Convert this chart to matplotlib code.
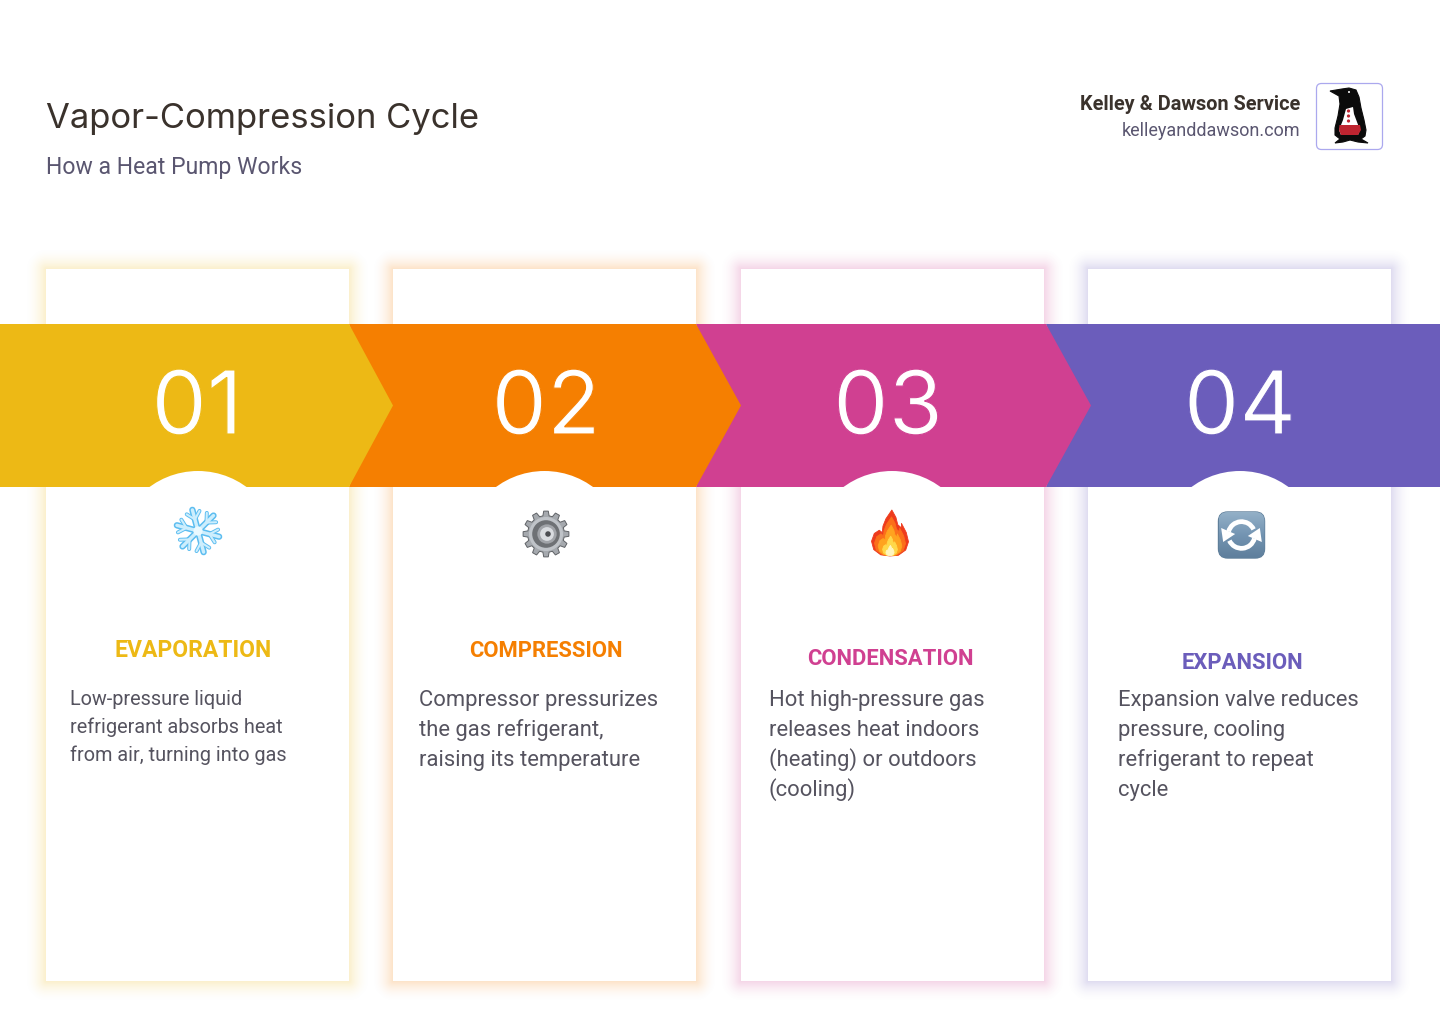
import matplotlib
matplotlib.use("Agg")
import matplotlib.pyplot as plt
import matplotlib.patheffects as pe
import numpy as np
from matplotlib.colors import to_rgb, LinearSegmentedColormap
from matplotlib.patches import Rectangle, Circle, Polygon, FancyBboxPatch, Arc

# ----------------- data -----------------
TITLE = "Vapor-Compression Cycle"
SUBTITLE = "How a Heat Pump Works"
COMPANY = "Kelley & Dawson Service"
SITE = "kelleyanddawson.com"

NUMBERS = ["01", "02", "03", "04"]
HEADINGS = ["EVAPORATION", "COMPRESSION", "CONDENSATION", "EXPANSION"]
BODIES = [
    ["Low-pressure liquid", "refrigerant absorbs heat", "from air, turning into gas"],
    ["Compressor pressurizes", "the gas refrigerant,", "raising its temperature"],
    ["Hot high-pressure gas", "releases heat indoors", "(heating) or outdoors", "(cooling)"],
    ["Expansion valve reduces", "pressure, cooling", "refrigerant to repeat", "cycle"],
]
COLORS = ["#EDB915", "#F57F01", "#D04091", "#6B5DBB"]

CARD_LEFT = [46, 393, 741, 1088]
CARD_WIDTH = 303
CARD_TOP = 269
CARD_BOTTOM = 981
BAND_TOP = 324
BAND_BOTTOM = 487
BAND_MID = 405.5
CHEVRON_START = [-10, 349, 696, 1046]
CHEVRON_END = [349, 696, 1046, 1450]
CHEVRON_TIP = [393, 741, 1091, None]
NUMBER_X = [197, 546, 888, 1240]
ARC_X = [198, 544.5, 892, 1240]
HEADING_X = [193, 546, 890, 1242]
HEADING_Y = [657, 657, 665, 669]
HEADING_SIZE = [22.9, 22, 22, 22]
BODY_X = [70, 419, 769, 1118]
BODY_Y = [705, 706, 706, 706]
BODY_STEP = [28, 30, 30, 30]
BODY_SIZE = [19.85, 22, 22, 22]

plt.rcParams["font.family"] = ["Roboto", "DejaVu Sans"]

fig = plt.figure(figsize=(14.4, 10.24), dpi=100, facecolor="white")
ax = fig.add_axes([0, 0, 1, 1])


def px(size):
    return size * 0.72


def draw_shadow(x, y, w, h, color, spread=22, strength=0.22):
    xs = np.arange(x - spread, x + w + spread) + 0.5
    ys = np.arange(y - spread, y + h + spread) + 0.5
    dx = np.maximum(np.maximum(x - xs, xs - (x + w)), 0)
    dy = np.maximum(np.maximum(y - ys, ys - (y + h)), 0)
    dist = np.hypot(dx[None, :], dy[:, None])
    fall = np.clip(1 - dist / spread, 0, 1) ** 2
    rgba = np.zeros(fall.shape + (4,))
    rgba[..., :3] = to_rgb(color)
    rgba[..., 3] = fall * strength
    ax.imshow(rgba, extent=(x - spread, x + w + spread, y + h + spread, y - spread),
              aspect="auto", interpolation="nearest", zorder=1)


def snowflake(cx, cy, r):
    for color, lw in [("#5CBDF0", 4.6), ("#CDEEFD", 2.4)]:
        for k in range(6):
            a = np.pi / 2 + k * np.pi / 3 + 0.26
            d = np.array([np.cos(a), -np.sin(a)])
            tip = np.array([cx, cy]) + d * r * 0.95
            ax.plot([cx, tip[0]], [cy, tip[1]], color=color, lw=lw, solid_capstyle="round", zorder=6)
            base = np.array([cx, cy]) + d * r * 0.52
            for s in (-0.75, 0.75):
                e = base + np.array([np.cos(a + s), -np.sin(a + s)]) * r * 0.42
                ax.plot([base[0], e[0]], [base[1], e[1]], color=color, lw=lw * 0.62,
                        solid_capstyle="round", zorder=6)
    ax.add_patch(Circle((cx, cy), r * 0.2, fc="#EAF9FF", ec="none", zorder=7))


def gear(cx, cy, r):
    n = 12
    pts = []
    for k in range(n):
        a0 = 2 * np.pi * k / n
        for da, rr in [(-0.17, 0.8), (-0.1, 1.0), (0.1, 1.0), (0.17, 0.8)]:
            pts.append((cx + rr * r * np.cos(a0 + da), cy + rr * r * np.sin(a0 + da)))
    ax.add_patch(Polygon(pts, closed=True, fc="#A5A9AE", ec="#5F6266", lw=0.7, zorder=6))
    ax.add_patch(Circle((cx, cy), r * 0.74, fc="#BFC3C8", ec="none", zorder=7))
    ax.add_patch(Circle((cx, cy), r * 0.6, fc="#6E7175", ec="none", zorder=7))
    ax.add_patch(Circle((cx + 1, cy), r * 0.42, fc="#A1A4A9", ec="none", zorder=7))
    ax.add_patch(Circle((cx + 1, cy), r * 0.3, fc="#D9DCE0", ec="none", zorder=7))
    ax.add_patch(Circle((cx + 2, cy), r * 0.12, fc="#4C4E52", ec="none", zorder=8))


def flame(cx, cy, sx, sy):
    outer = [(0.1, -1.0), (0.32, -0.68), (0.42, -0.36), (0.62, -0.22), (0.62, -0.42), (0.88, -0.02),
             (1.0, 0.38), (0.85, 0.74), (0.45, 0.97), (0.0, 1.0), (-0.5, 0.95), (-0.88, 0.72),
             (-1.0, 0.36), (-0.85, 0.02), (-0.58, -0.12), (-0.42, -0.02), (-0.38, -0.3),
             (-0.22, -0.62)]
    layers = [(1.0, 1.0, 0.0, "#EE3B1C"), (0.84, 0.84, 0.14, "#FB6F1A"),
              (0.64, 0.66, 0.32, "#FFA31F"), (0.4, 0.42, 0.56, "#FFD84A"),
              (0.22, 0.22, 0.76, "#FFF6C0")]
    for fx, fy, dy, color in layers:
        pts = [(cx + x * sx * fx, cy + (y * fy + dy) * sy) for x, y in outer]
        ax.add_patch(Polygon(pts, closed=True, fc=color, ec=color, lw=0.6, joinstyle="round", zorder=6))


def refresh(x, y, size):
    box = FancyBboxPatch((x, y), size, size, boxstyle=f"round,pad=0,rounding_size={size * 0.2}",
                         fc="#7092AF", ec="#5F7F9A", lw=1, zorder=6)
    ax.add_patch(box)
    grad = np.linspace(0, 1, 64).reshape(-1, 1)
    cmap = LinearSegmentedColormap.from_list("b", ["#93B0C7", "#7394B2", "#5F7F9C"])
    im = ax.imshow(grad, extent=(x, x + size, y + size, y), aspect="auto", zorder=6.5, cmap=cmap)
    im.set_clip_path(box)
    cx, cy = x + size / 2, y + size / 2
    r = size * 0.29
    ax.add_patch(Arc((cx, cy), 2 * r, 2 * r, theta1=195, theta2=335, color="white", lw=3.4, zorder=7))
    ax.add_patch(Arc((cx, cy), 2 * r, 2 * r, theta1=15, theta2=155, color="white", lw=3.4, zorder=7))
    ax.add_patch(Polygon([(cx - r - 7, cy - 7), (cx - r + 7, cy - 1), (cx - r - 5, cy + 7)],
                         fc="white", ec="none", zorder=7))
    ax.add_patch(Polygon([(cx + r + 7, cy + 7), (cx + r - 7, cy + 1), (cx + r + 5, cy - 7)],
                         fc="white", ec="none", zorder=7))


def penguin():
    ax.add_patch(FancyBboxPatch((1316.5, 83.5), 66, 66, boxstyle="round,pad=0,rounding_size=5",
                                fc="white", ec="#ABA8EE", lw=0.9, zorder=3))
    body = [(1330, 91), (1342, 89), (1349, 88), (1356, 90), (1359, 97), (1361, 108), (1364, 120),
            (1366, 130), (1365, 136), (1361, 139), (1368, 143), (1358, 142), (1350, 140),
            (1343, 142), (1335, 143), (1340, 139), (1335, 135), (1335, 128), (1338, 116),
            (1340, 104), (1339, 96)]
    ax.add_patch(Polygon(body, closed=True, fc="#0B0B0B", ec="#0B0B0B", lw=0.8, zorder=4))
    belly = [(1346, 109), (1353, 107), (1354, 114), (1357, 122), (1360, 130), (1358, 135),
             (1341, 135), (1339, 130), (1343, 120)]
    ax.add_patch(Polygon(belly, closed=True, fc="white", ec="none", zorder=5))
    ax.add_patch(Polygon([(1339.5, 125), (1360, 125), (1361, 130), (1358, 135), (1341, 135), (1339, 130)],
                         closed=True, fc="#BE2430", ec="none", zorder=6))
    for dot_y in [111, 116, 121]:
        ax.add_patch(Circle((1348.5, dot_y), 1.6, fc="#BE2430", ec="none", zorder=6))
    ax.add_patch(Circle((1349, 92), 1, fc="white", ec="none", zorder=6))


# cards and their soft coloured shadows
for left, color in zip(CARD_LEFT, COLORS):
    draw_shadow(left, CARD_TOP, CARD_WIDTH, CARD_BOTTOM - CARD_TOP, color)
for left in CARD_LEFT:
    ax.add_patch(Rectangle((left, CARD_TOP), CARD_WIDTH, CARD_BOTTOM - CARD_TOP, fc="white", ec="none", zorder=2))

# chevrons, last first so each tip lies over the next one
for i in range(3, -1, -1):
    start, end, tip = CHEVRON_START[i], CHEVRON_END[i], CHEVRON_TIP[i]
    if tip is None:
        pts = [(start, BAND_TOP), (end, BAND_TOP), (end, BAND_BOTTOM), (start, BAND_BOTTOM)]
    else:
        pts = [(start, BAND_TOP), (end, BAND_TOP), (tip, BAND_MID), (end, BAND_BOTTOM), (start, BAND_BOTTOM)]
    if i > 0:
        pts.append((start + 30, BAND_MID))
    ax.add_patch(Polygon(pts, closed=True, fc=COLORS[i], ec="none", zorder=3 + (3 - i) * 0.1))

for x in ARC_X:
    ax.add_patch(Circle((x, 552.5), 81.5, fc="white", ec="none", zorder=4))

for i in range(4):
    # Inter has the wide round digits of the reference, the stroke thins them a little
    ax.text(NUMBER_X[i], 434, NUMBERS[i], color="white", fontsize=px(88), family=["Inter", "Roboto"],
            ha="center", va="baseline", zorder=5,
            path_effects=[pe.Normal(), pe.Stroke(linewidth=0.8, foreground=COLORS[i])])
    ax.text(HEADING_X[i], HEADING_Y[i], HEADINGS[i], color=COLORS[i], fontsize=px(HEADING_SIZE[i]),
            fontweight="bold", ha="center", va="baseline", zorder=5)
    for j, line in enumerate(BODIES[i]):
        ax.text(BODY_X[i], BODY_Y[i] + j * BODY_STEP[i], line, color="#55535F", fontsize=px(BODY_SIZE[i]),
                ha="left", va="baseline", zorder=5)

snowflake(198, 531, 23)
gear(546, 534, 23)
flame(890, 533, 18.5, 23)
refresh(1218.5, 512, 46)
penguin()

# header
ax.text(46, 128, TITLE, color="#3A322C", fontsize=px(34.6), family=["Inter", "Roboto"], ha="left", va="baseline")
ax.text(46, 174, SUBTITLE, color="#5A5670", fontsize=px(23), ha="left", va="baseline")
ax.text(1300, 110, COMPANY, color="#3A322C", fontsize=px(19.9), fontweight="bold", ha="right", va="baseline")
ax.text(1300, 136, SITE, color="#5A5670", fontsize=px(18), ha="right", va="baseline")

ax.set_xlim(0, 1440)
ax.set_ylim(1024, 0)
ax.axis("off")

fig.savefig("out.png", dpi=100, facecolor="white")
